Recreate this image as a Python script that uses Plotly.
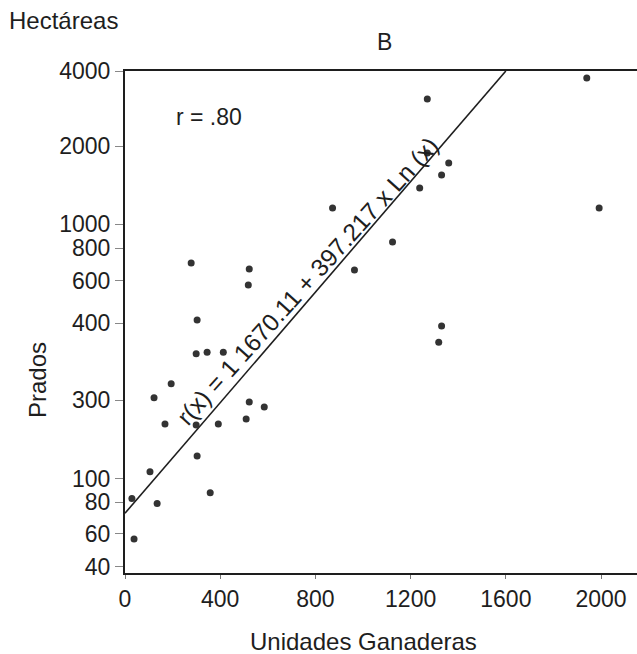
import numpy as np
import plotly.graph_objects as go

# Printed y-axis scale (labels and their position along the axis, 0 = bottom, 1 = top)
Y_TICKS = [40, 60, 80, 100, 300, 400, 600, 800, 1000, 2000, 4000]
Y_TICK_POS = [0.012, 0.0777, 0.1414, 0.1873, 0.3446, 0.4980, 0.5817, 0.6474, 0.6952, 0.8506, 1.0]
X_TICKS = [0, 400, 800, 1200, 1600, 2000]

# Data: Unidades Ganaderas (x) vs Prados hectáreas (y)
UG = [1270, 1940, 1270, 1360, 1330, 1238, 872, 1992, 1124, 964, 1330, 1318,
      278, 522, 518, 303, 299, 345, 413, 194, 122, 522, 585, 168, 299, 392,
      509, 303, 105, 358, 29, 135, 38]
PRADOS = [3250, 3810, 1910, 1782, 1628, 1462, 1205, 1205, 850, 667, 396, 375,
          709, 673, 581, 414, 360, 362, 362, 321, 303, 295, 282, 239, 237, 239,
          252, 158, 118, 88, 83, 79, 57]

# Fitted line endpoints
LINE_X = [0, 1600]
LINE_Y = [73, 4000]


def to_axis(v):
    return np.interp(v, Y_TICKS, Y_TICK_POS)


FONT = "Liberation Sans, Arial, sans-serif"
INK = "#1e1e1e"

W, H = 637, 654
L, T, B = 125, 71, 81
PW, PH = W - L, H - T - B


def px(xp):
    return (xp - L) / PW


def py(yp):
    return (H - B - yp) / PH


fig = go.Figure()
fig.add_trace(go.Scatter(
    x=LINE_X, y=to_axis(LINE_Y), mode="lines",
    line=dict(color=INK, width=1.6), hoverinfo="skip", showlegend=False,
))
fig.add_trace(go.Scatter(
    x=UG, y=to_axis(PRADOS), mode="markers",
    marker=dict(color="#333333", size=7), showlegend=False,
))

fig.update_layout(
    width=W, height=H,
    margin=dict(l=L, r=0, t=T, b=B),
    paper_bgcolor="white", plot_bgcolor="white",
    font=dict(family=FONT, color=INK, size=23),
    xaxis=dict(
        range=[0, 2151], tickvals=X_TICKS, ticktext=[str(v) for v in X_TICKS],
        showline=True, linecolor=INK, linewidth=2, mirror=True,
        ticks="outside", ticklen=4, tickcolor="#777777", tickwidth=1,
        showgrid=False, zeroline=False, tickfont=dict(size=23),
    ),
    yaxis=dict(
        range=[0, 1], tickvals=to_axis(Y_TICKS), ticktext=[str(v) for v in Y_TICKS],
        showline=True, linecolor=INK, linewidth=2, mirror=False,
        ticks="outside", ticklen=8, tickcolor="#888888", tickwidth=1,
        showgrid=False, zeroline=False, tickfont=dict(size=23),
    ),
    annotations=[
        dict(text="Hectáreas", xref="paper", yref="paper", x=px(7), y=py(20),
             xanchor="left", yanchor="middle", showarrow=False, font=dict(size=24)),
        dict(text="B", xref="paper", yref="paper", x=px(384), y=py(42),
             xanchor="center", yanchor="middle", showarrow=False, font=dict(size=23)),
        dict(text="Prados", xref="paper", yref="paper", x=px(37), y=py(380),
             xanchor="center", yanchor="middle", textangle=-90, showarrow=False,
             font=dict(size=24)),
        dict(text="Unidades Ganaderas", xref="paper", yref="paper", x=px(363),
             y=py(642), xanchor="center", yanchor="middle", showarrow=False,
             font=dict(size=24)),
        dict(text="r = .80", xref="paper", yref="paper", x=px(209), y=py(117),
             xanchor="center", yanchor="middle", showarrow=False, font=dict(size=23)),
        dict(text="r(x) = 1 1670.11 + 397.217 x Ln (x)", xref="paper", yref="paper",
             x=px(307), y=py(281), xanchor="center", yanchor="middle", textangle=-48,
             showarrow=False, font=dict(size=24.5)),
    ],
)

fig.write_html(
    "out.html",
    config={"displayModeBar": False},
    post_script="document.body.style.margin='0';document.body.style.overflow='hidden';",
)
